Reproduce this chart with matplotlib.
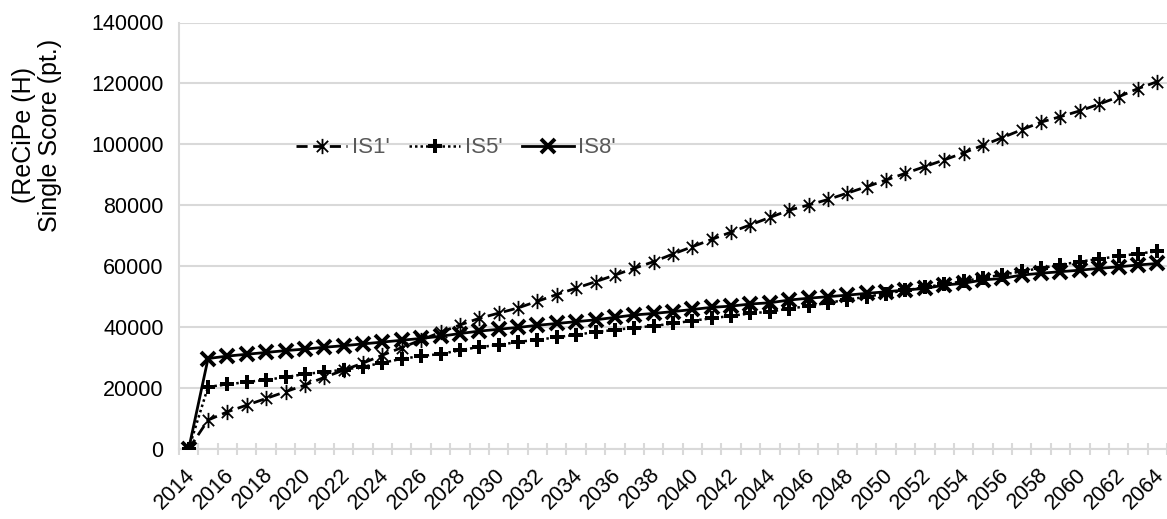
import matplotlib
matplotlib.use("Agg")
import matplotlib.pyplot as plt
import matplotlib.transforms as mtransforms
from matplotlib.path import Path
import numpy as np

plt.rcParams['font.family'] = ['Liberation Sans', 'DejaVu Sans']

years = list(range(2014, 2065))

is1 = [0, 9500, 12200, 14400, 16600, 18800, 21000, 23500, 25900, 28200,
       30800, 33300, 35800, 38300, 40700, 42900, 44600, 46300, 48500, 50700,
       52800, 54900, 57100, 59300, 61500, 64000, 66400, 68800, 71200, 73600,
       76000, 78400, 80100, 81900, 84000, 86100, 88300, 90500, 92700, 94900,
       97200, 99700, 102200, 104800, 107300, 109100, 111000, 113200, 115600, 118300,
       120600]

is5 = [0, 20400, 21200, 22000, 22700, 23600, 24600, 25300, 26000, 27000,
       28300, 29600, 30500, 31200, 32400, 33500, 34100, 35200, 35800, 36700,
       37500, 38400, 39100, 39800, 40400, 41200, 42100, 42900, 43700, 44500,
       45100, 46100, 46900, 48000, 49000, 50000, 51000, 52100, 53100, 54100,
       55100, 56200, 57200, 58300, 59400, 60500, 61500, 62400, 63300, 64100,
       64900]

is8 = [0, 29700, 30500, 31100, 31700, 32300, 32800, 33400, 33900, 34500,
       35100, 35700, 36300, 37000, 37900, 38700, 39300, 39900, 40600, 41200,
       41800, 42400, 43200, 44000, 44500, 45100, 45800, 46500, 46900, 47600,
       48000, 48900, 49500, 50000, 50500, 51100, 51600, 52200, 52700, 53800,
       54400, 55500, 56000, 57100, 57700, 58200, 58700, 59300, 59800, 60400,
       60900]

series_names = ["IS1'", "IS5'", "IS8'"]

# asterisk: an x with a vertical bar through it
star = Path([(-1, -1), (1, 1), (-1, 1), (1, -1), (0, -1.35), (0, 1.35)],
            [Path.MOVETO, Path.LINETO, Path.MOVETO, Path.LINETO, Path.MOVETO, Path.LINETO])

fig = plt.figure(figsize=(11.67, 5.19), dpi=100)
ax = fig.add_axes([179 / 1167, 70 / 519, 988 / 1167, 426.5 / 519])

x = np.arange(len(years))
grid_c = '#d9d9d9'

ax.plot(x, is1, color='black', lw=2, ls=(0, (4, 2)), marker=star, ms=11,
        mew=1.3, mfc='none', mec='black', label=series_names[0], zorder=3)
ax.plot(x, is5, color='black', lw=1.8, ls=(0, (1, 1.2)), marker='P', ms=10.5,
        mew=0, mfc='black', label=series_names[1], zorder=4)
ax.plot(x, is8, color='black', lw=2, ls='-', marker='x', ms=10.5,
        mew=2.8, mec='black', label=series_names[2], zorder=5)

ax.set_xlim(-0.5, len(years) - 0.5)
ax.set_ylim(0, 140000)
ax.set_yticks(range(0, 140001, 20000))
ax.yaxis.grid(True, color=grid_c, lw=1.5)
ax.set_axisbelow(True)

ax.set_xticks(x[::2])
ax.set_xticklabels([str(y) for y in years[::2]], rotation=45, ha='right',
                   va='top', rotation_mode='anchor')
ax.set_xticks(np.arange(-0.5, len(years), 1), minor=True)
ax.tick_params(axis='x', which='major', length=0, pad=11, labelsize=15.5)
ax.tick_params(axis='x', which='minor', length=9, direction='inout',
               color=grid_c, width=1.5)
ax.tick_params(axis='y', length=0, pad=11, labelsize=15.5)

# nudge the year labels a little to the left so the last one stays inside
shift = mtransforms.ScaledTranslation(-4 / 100, 0, fig.dpi_scale_trans)
for lbl in ax.get_xticklabels():
    lbl.set_transform(lbl.get_transform() + shift)

for side in ['top', 'right']:
    ax.spines[side].set_visible(False)
for side in ['left', 'bottom']:
    ax.spines[side].set_color(grid_c)
    ax.spines[side].set_linewidth(1.5)

fig.text(37 / 1167, 1 - 135 / 519, "(ReCiPe (H)\nSingle Score (pt.)",
         rotation=90, ha='center', va='center', multialignment='center',
         fontsize=18, linespacing=1.15)

leg = ax.legend(loc='center left', bbox_to_anchor=(296 / 1167, 1 - 148 / 519),
                bbox_transform=fig.transFigure, ncol=3, frameon=False,
                fontsize=16, handlelength=2.3, handletextpad=0.22,
                columnspacing=0.88, borderpad=0, borderaxespad=0)
for t in leg.get_texts():
    t.set_color('#595959')

fig.savefig('out.png', dpi=100)
